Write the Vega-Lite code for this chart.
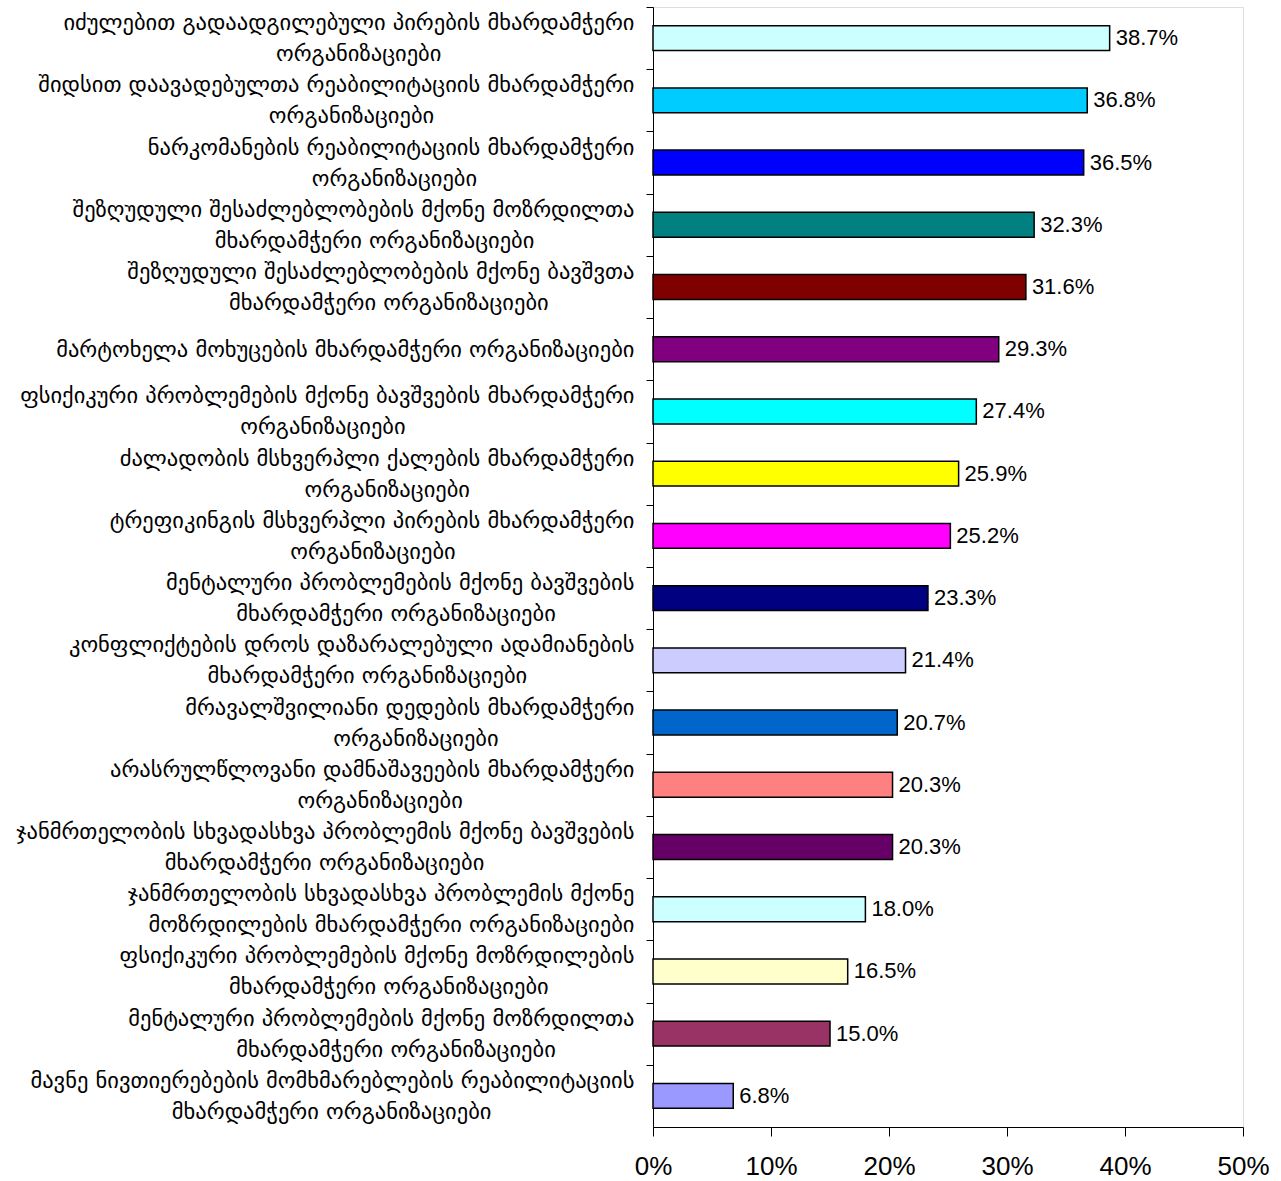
{
  "$schema": "https://vega.github.io/schema/vega-lite/v6.json",
  "autosize": {"type": "none"},
  "padding": {"left": 653, "top": 7, "right": 38, "bottom": 54},
  "width": 590,
  "height": 1120,
  "background": "white",
  "data": {
    "values": [
      {"org": "იძულებით გადაადგილებული პირების მხარდამჭერი|ორგანიზაციები", "share": 0.387},
      {"org": "შიდსით დაავადებულთა რეაბილიტაციის მხარდამჭერი|ორგანიზაციები", "share": 0.368},
      {"org": "ნარკომანების რეაბილიტაციის მხარდამჭერი|ორგანიზაციები", "share": 0.365},
      {"org": "შეზღუდული შესაძლებლობების მქონე მოზრდილთა|მხარდამჭერი ორგანიზაციები", "share": 0.323},
      {"org": "შეზღუდული შესაძლებლობების მქონე ბავშვთა|მხარდამჭერი ორგანიზაციები", "share": 0.316},
      {"org": "მარტოხელა მოხუცების  მხარდამჭერი ორგანიზაციები", "share": 0.293},
      {"org": "ფსიქიკური პრობლემების მქონე ბავშვების მხარდამჭერი|ორგანიზაციები", "share": 0.274},
      {"org": "ძალადობის მსხვერპლი ქალების მხარდამჭერი|ორგანიზაციები", "share": 0.259},
      {"org": "ტრეფიკინგის მსხვერპლი პირების მხარდამჭერი|ორგანიზაციები", "share": 0.252},
      {"org": "მენტალური პრობლემების მქონე ბავშვების|მხარდამჭერი ორგანიზაციები", "share": 0.233},
      {"org": "კონფლიქტების დროს დაზარალებული ადამიანების|მხარდამჭერი ორგანიზაციები", "share": 0.214},
      {"org": "მრავალშვილიანი დედების მხარდამჭერი|ორგანიზაციები", "share": 0.207},
      {"org": "არასრულწლოვანი დამნაშავეების მხარდამჭერი|ორგანიზაციები", "share": 0.203},
      {"org": "ჯანმრთელობის სხვადასხვა პრობლემის მქონე ბავშვების|მხარდამჭერი ორგანიზაციები", "share": 0.203},
      {"org": "ჯანმრთელობის სხვადასხვა პრობლემის მქონე|მოზრდილების მხარდამჭერი ორგანიზაციები", "share": 0.18},
      {"org": "ფსიქიკური პრობლემების მქონე მოზრდილების|მხარდამჭერი ორგანიზაციები", "share": 0.165},
      {"org": "მენტალური პრობლემების მქონე მოზრდილთა|მხარდამჭერი ორგანიზაციები", "share": 0.15},
      {"org": "მავნე ნივთიერებების მომხმარებლების რეაბილიტაციის|მხარდამჭერი ორგანიზაციები", "share": 0.068}
    ]
  },
  "encoding": {
    "y": {
      "field": "org",
      "type": "nominal",
      "sort": null,
      "title": null,
      "scale": {"paddingInner": 0.6, "paddingOuter": 0.3},
      "axis": {
        "labelExpr": "indexof(datum.value, '|') < 0 ? datum.value : (abs(length(split(datum.value, '|')[0]) - length(split(datum.value, '|')[1])) < 4 ? split(datum.value, '|') : (length(split(datum.value, '|')[0]) >= length(split(datum.value, '|')[1]) ? [split(datum.value, '|')[0], pad(split(datum.value, '|')[1], length(split(datum.value, '|')[1]) + round((length(split(datum.value, '|')[0]) - length(split(datum.value, '|')[1])) * 0.89), '\u00a0', 'right') + '\u2060'] : [pad(split(datum.value, '|')[0], length(split(datum.value, '|')[0]) + round((length(split(datum.value, '|')[1]) - length(split(datum.value, '|')[0])) * 0.89), '\u00a0', 'right') + '\u2060', split(datum.value, '|')[1]]))",
        "labelFont": "DejaVu Sans",
        "labelFontSize": 22.5,
        "labelLineHeight": 31,
        "labelColor": "black",
        "labelPadding": 12,
        "labelLimit": 700,
        "labelBaseline": "middle",
        "tickOffset": -31.11,
        "labelOffset": {"condition": {"test": "indexof(datum.value, '|') < 0", "value": 31.11}, "value": 15.6},
        "tickSize": 7,
        "tickColor": "black",
        "domainColor": "black",
        "grid": false
      }
    },
    "x": {
      "field": "share",
      "type": "quantitative",
      "title": null,
      "scale": {"domain": [0, 0.5], "nice": false},
      "axis": {
        "values": [0, 0.1, 0.2, 0.3, 0.4, 0.5],
        "format": ".0%",
        "labelFont": "Liberation Sans",
        "labelFontSize": 26,
        "labelColor": "black",
        "labelPadding": 17,
        "tickSize": 9,
        "tickColor": "black",
        "domainColor": "black",
        "grid": false,
        "labelFlush": false,
        "labelOverlap": false
      }
    }
  },
  "layer": [
    {
      "mark": {"type": "bar", "stroke": "black", "strokeWidth": 1.5},
      "encoding": {
        "color": {
          "field": "org",
          "type": "nominal",
          "legend": null,
          "scale": {
            "domain": [
              "იძულებით გადაადგილებული პირების მხარდამჭერი|ორგანიზაციები",
              "შიდსით დაავადებულთა რეაბილიტაციის მხარდამჭერი|ორგანიზაციები",
              "ნარკომანების რეაბილიტაციის მხარდამჭერი|ორგანიზაციები",
              "შეზღუდული შესაძლებლობების მქონე მოზრდილთა|მხარდამჭერი ორგანიზაციები",
              "შეზღუდული შესაძლებლობების მქონე ბავშვთა|მხარდამჭერი ორგანიზაციები",
              "მარტოხელა მოხუცების  მხარდამჭერი ორგანიზაციები",
              "ფსიქიკური პრობლემების მქონე ბავშვების მხარდამჭერი|ორგანიზაციები",
              "ძალადობის მსხვერპლი ქალების მხარდამჭერი|ორგანიზაციები",
              "ტრეფიკინგის მსხვერპლი პირების მხარდამჭერი|ორგანიზაციები",
              "მენტალური პრობლემების მქონე ბავშვების|მხარდამჭერი ორგანიზაციები",
              "კონფლიქტების დროს დაზარალებული ადამიანების|მხარდამჭერი ორგანიზაციები",
              "მრავალშვილიანი დედების მხარდამჭერი|ორგანიზაციები",
              "არასრულწლოვანი დამნაშავეების მხარდამჭერი|ორგანიზაციები",
              "ჯანმრთელობის სხვადასხვა პრობლემის მქონე ბავშვების|მხარდამჭერი ორგანიზაციები",
              "ჯანმრთელობის სხვადასხვა პრობლემის მქონე|მოზრდილების მხარდამჭერი ორგანიზაციები",
              "ფსიქიკური პრობლემების მქონე მოზრდილების|მხარდამჭერი ორგანიზაციები",
              "მენტალური პრობლემების მქონე მოზრდილთა|მხარდამჭერი ორგანიზაციები",
              "მავნე ნივთიერებების მომხმარებლების რეაბილიტაციის|მხარდამჭერი ორგანიზაციები"
            ],
            "range": ["#CCFFFF", "#00CCFF", "#0000FF", "#008080", "#800000", "#800080", "#00FFFF", "#FFFF00", "#FF00FF", "#000080", "#CCCCFF", "#0066CC", "#FF8080", "#660066", "#CCFFFF", "#FFFFCC", "#993366", "#9999FF"]
          }
        }
      }
    },
    {
      "mark": {"type": "text", "align": "left", "baseline": "middle", "dx": 6, "font": "Liberation Sans", "fontSize": 22, "color": "black"},
      "encoding": {
        "text": {"field": "share", "type": "quantitative", "format": ".1%"}
      }
    }
  ]
}
